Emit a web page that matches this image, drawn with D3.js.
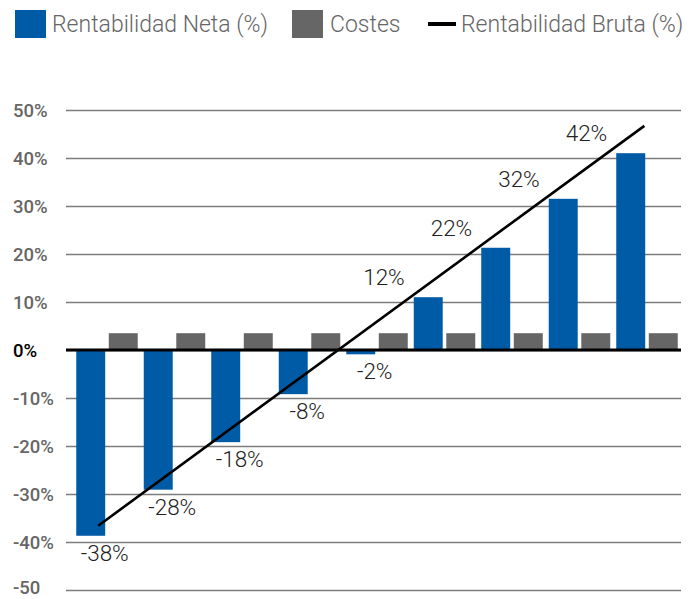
<!DOCTYPE html>
<html>
<head>
<meta charset="utf-8">
<script src="https://cdn.jsdelivr.net/npm/d3@7"></script>
<style>
  body { margin: 0; background: #fff; }
  svg { display: block; }
</style>
</head>
<body>
<div id="chart"></div>
<script>
// Data
var categories = ['P1', 'P2', 'P3', 'P4', 'P5', 'P6', 'P7', 'P8', 'P9']
var neta = [-38.7, -29.1, -19.2, -9.2, -0.9, 11.0, 21.3, 31.5, 41.0]
var costes = [3.5, 3.5, 3.5, 3.5, 3.5, 3.5, 3.5, 3.5, 3.5]
var netaLabels = ['-38%', '-28%', '-18%', '-8%', '-2%', '12%', '22%', '32%', '42%']
// Rentabilidad Bruta: straight line, start and end values
var brutaCats = ['P1', 'P9']
var bruta = [-36.6, 46.7]
var yTicks = [50, 40, 30, 20, 10, 0, -10, -20, -30, -40, -50]
var yTickLabels = ['50%', '40%', '30%', '20%', '10%', '0%', '-10%', '-20%', '-30%', '-40%', '-50']
var legendItems = ['Rentabilidad Neta (%)', 'Costes', 'Rentabilidad Bruta (%)']

// Settings
var settings = {}
settings.width = 697
settings.height = 599
settings.blue = '#005ba6'
settings.gray = '#666666'
settings.grid = '#7c7c7c'
settings.font = 'Roboto, "Liberation Sans", sans-serif'

var svg = d3.select('#chart').append('svg')
  .attr('width', settings.width)
  .attr('height', settings.height)

// Scales
var y = d3.scaleLinear().domain([-50, 50]).range([590, 110])

var x0 = d3.scaleBand()
  .domain(categories)
  .range([69.5, 684.5])
  .paddingInner(0.089)
  .paddingOuter(0.1)

var x1 = d3.scaleBand()
  .domain(['neta', 'costes'])
  .range([0, x0.bandwidth()])
  .paddingInner(0.11)

// Grid + tick labels
var yAxis = d3.axisLeft(y)
  .tickValues(yTicks)
  .tickSize(-(681 - 66))
  .tickFormat(function(d, i){ return yTickLabels[i] })

var gAxis = svg.append('g')
  .attr('transform', 'translate(66,0)')
  .call(yAxis)

gAxis.select('.domain').remove()
gAxis.selectAll('.tick line')
  .attr('stroke', settings.grid)
  .attr('stroke-width', 1.5)
gAxis.selectAll('.tick text')
  .attr('x', -53)
  .attr('dy', function(d){ return d === -50 ? '0.2em' : '0.33em' }) // keep bottom label inside
  .attr('text-anchor', 'start')
  .attr('font-family', settings.font)
  .attr('font-size', 18.5)
  .attr('font-weight', 500)
  .attr('fill', function(d){ return d === 0 ? '#000' : settings.gray })

// Bars
var groups = svg.append('g').selectAll('g')
  .data(categories)
  .join('g')
  .attr('transform', function(d){ return 'translate(' + x0(d) + ',0)' })

groups.append('rect')
  .attr('x', x1('neta'))
  .attr('width', x1.bandwidth())
  .attr('y', function(d, i){ return y(Math.max(0, neta[i])) })
  .attr('height', function(d, i){ return Math.abs(y(neta[i]) - y(0)) })
  .attr('fill', settings.blue)

groups.append('rect')
  .attr('x', x1('costes'))
  .attr('width', x1.bandwidth())
  .attr('y', function(d, i){ return y(Math.max(0, costes[i])) })
  .attr('height', function(d, i){ return Math.abs(y(costes[i]) - y(0)) })
  .attr('fill', settings.gray)

// Zero line
svg.append('line')
  .attr('x1', 66).attr('x2', 681)
  .attr('y1', y(0)).attr('y2', y(0))
  .attr('stroke', '#000')
  .attr('stroke-width', 3)

// Rentabilidad Bruta line
var lineFrac = [0.76, 0.97]
var line = d3.line()
  .x(function(d, i){ return x0(brutaCats[i]) + x1('neta') + x1.bandwidth() * lineFrac[i] })
  .y(function(d){ return y(d) })

svg.append('path')
  .attr('d', line(bruta))
  .attr('fill', 'none')
  .attr('stroke', '#000')
  .attr('stroke-width', 2.6)

// Data labels
groups.append('text')
  .text(function(d, i){ return netaLabels[i] })
  .attr('font-family', settings.font)
  .attr('font-weight', 300)
  .attr('font-size', 22.5)
  .attr('fill', '#222')
  .attr('text-anchor', function(d, i){ return neta[i] < 0 ? 'middle' : 'end' })
  .attr('x', function(d, i){
    return neta[i] < 0 ? x1('neta') + x1.bandwidth() / 2 + 14 : x1('neta') - 9
  })
  .attr('y', function(d, i){
    return neta[i] < 0 ? y(neta[i]) + 25 : y(neta[i]) - 12
  })

// Legend
var legend = svg.append('g')
legend.append('rect').attr('x', 15).attr('y', 10).attr('width', 31).attr('height', 28).attr('fill', settings.blue)
legend.append('rect').attr('x', 292).attr('y', 10).attr('width', 31).attr('height', 28).attr('fill', settings.gray)
legend.append('line').attr('x1', 428).attr('x2', 456).attr('y1', 24).attr('y2', 24)
  .attr('stroke', '#000').attr('stroke-width', 4)

var legendX = [52, 330, 461]
legend.selectAll('text')
  .data(legendItems)
  .join('text')
  .text(function(d){ return d })
  .attr('x', function(d, i){ return legendX[i] })
  .attr('y', 32)
  .attr('font-family', settings.font)
  .attr('font-weight', 300)
  .attr('font-size', 23)
  .attr('fill', settings.gray)
</script>
</body>
</html>
